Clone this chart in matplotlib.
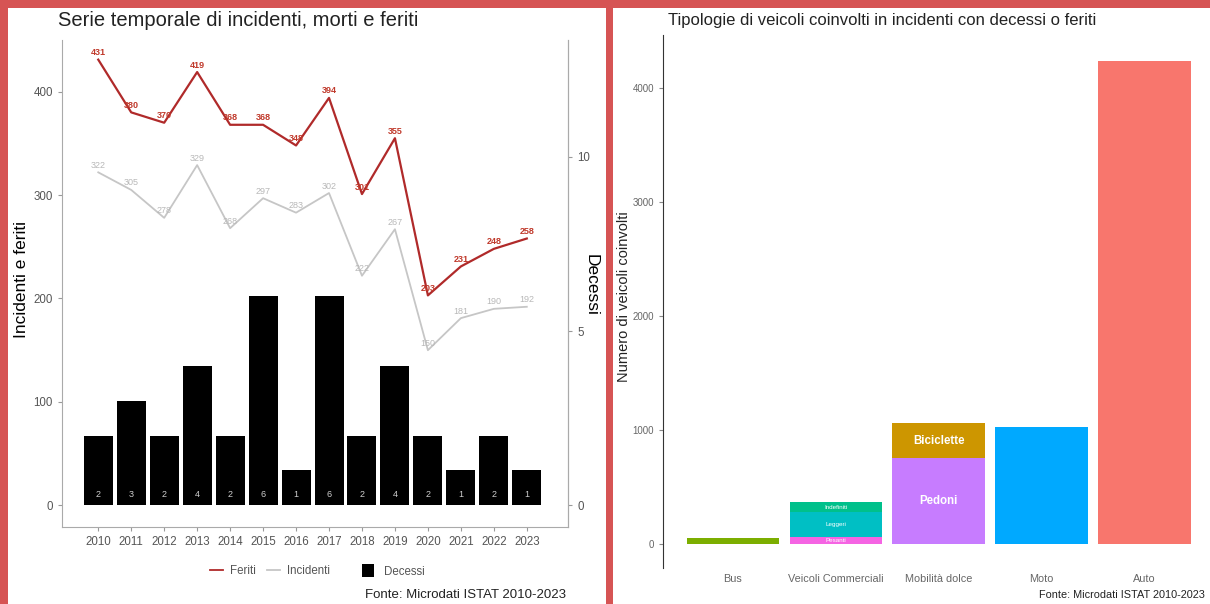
import numpy as np
import matplotlib.pyplot as plt
from matplotlib.patches import Rectangle
from matplotlib.lines import Line2D
from matplotlib.patches import Patch

plt.rcParams['font.family'] = ['Liberation Sans', 'DejaVu Sans']

# dati serie temporale
anni = [2010, 2011, 2012, 2013, 2014, 2015, 2016, 2017, 2018, 2019, 2020, 2021, 2022, 2023]
feriti = [431, 380, 370, 419, 368, 368, 348, 394, 301, 355, 203, 231, 248, 258]
incidenti = [322, 305, 278, 329, 268, 297, 283, 302, 222, 267, 150, 181, 190, 192]
decessi = [2, 3, 2, 4, 2, 6, 1, 6, 2, 4, 2, 1, 2, 1]

# dati tipologie veicoli
categorie = ['Bus', 'Veicoli Commerciali', 'Mobilità dolce', 'Moto', 'Auto']
sotto_tipi = ['Bus', 'Pesanti', 'Leggeri', 'Indefiniti', 'Pedoni', 'Biciclette', 'Moto', 'Auto']
sotto_gruppo = ['Bus', 'Veicoli Commerciali', 'Veicoli Commerciali', 'Veicoli Commerciali',
                'Mobilità dolce', 'Mobilità dolce', 'Moto', 'Auto']
sotto_valori = [55, 60, 220, 90, 755, 305, 1025, 4240]
sotto_colori = ['#7cae00', '#f564e3', '#00bfc4', '#00c08b', '#c77cff', '#cd9600', '#00a9ff', '#f8766d']

k = 33.7  # scala decessi -> asse sinistro
W, H = 1210, 604

fig = plt.figure(figsize=(12.1, 6.04), dpi=100)
fig.patch.set_facecolor('#d65454')
# pannelli bianchi
fig.patches.append(Rectangle((8/W, 0), 598/W, 1 - 8/H, transform=fig.transFigure,
                             facecolor='white', edgecolor='none', zorder=-10))
fig.patches.append(Rectangle((613/W, 0), 597/W, 1 - 8/H, transform=fig.transFigure,
                             facecolor='white', edgecolor='none', zorder=-10))

# ---------------- grafico sinistro
ax = fig.add_axes([62/W, 1 - 527/H, 506/W, 487/H])
ax.set_facecolor('white')
x = np.array(anni)
ax.bar(x, np.array(decessi) * k, width=0.88, color='black', zorder=1)
for xi, d in zip(anni, decessi):
    ax.text(xi, 0.3 * k, str(d), color='#cfcfcf', fontsize=6.5, ha='center', va='center', zorder=4)

ax.plot(x, incidenti, color='#c6c6c6', lw=1.3, zorder=2)
ax.plot(x, feriti, color='#b02a2a', lw=1.6, zorder=3)
for xi, v in zip(anni, incidenti):
    ax.annotate(str(v), (xi, v), xytext=(0, 5), textcoords='offset points',
                ha='center', va='center', fontsize=6.5, color='#b8b8b8', zorder=5)
for xi, v in zip(anni, feriti):
    ax.annotate(str(v), (xi, v), xytext=(0, 5), textcoords='offset points',
                ha='center', va='center', fontsize=6.5, color='#c0392b', fontweight='bold', zorder=5)

ax.set_xlim(2008.9, 2024.25)
ax.set_ylim(-21, 450)
ax.set_xticks(anni)
ax.set_yticks([0, 100, 200, 300, 400])
ax.tick_params(axis='both', colors='#9a9a9a', labelcolor='#555555', labelsize=8.3, length=3)
ax.spines['top'].set_visible(False)
for s in ['left', 'bottom', 'right']:
    ax.spines[s].set_color('#aaaaaa')

sec = ax.secondary_yaxis('right', functions=(lambda y: y / k, lambda d: d * k))
sec.set_yticks([0, 5, 10])
sec.tick_params(colors='#9a9a9a', labelcolor='#555555', labelsize=8.3, length=3)
sec.spines['right'].set_color('#aaaaaa')

fig.text(22/W, 1 - 280/H, 'Incidenti e feriti', fontsize=12.5, rotation=90,
         ha='center', va='center', color='black')
fig.text(591/W, 1 - 285/H, 'Decessi', fontsize=12.5, rotation=-90,
         ha='center', va='center', color='black')
fig.text(58/W, 1 - 21/H, 'Serie temporale di incidenti, morti e feriti', fontsize=14.5,
         ha='left', va='center', color='#222222')

h_linee = [Line2D([], [], color='#b02a2a', lw=1.3),
           Line2D([], [], color='#c6c6c6', lw=1.3)]
fig.legend(h_linee, ['Feriti', 'Incidenti'], loc='center',
           bbox_to_anchor=(270/W, 1 - 571/H), ncol=2, frameon=False, fontsize=8.3,
           handlelength=1.1, columnspacing=1.0, handletextpad=0.6, labelcolor='#555555')
fig.legend([Patch(facecolor='black')], ['Decessi'], loc='center',
           bbox_to_anchor=(393/W, 1 - 571/H), frameon=False, fontsize=8.3,
           handlelength=1.1, handleheight=1.3, handletextpad=0.8, labelcolor='#555555')
fig.text(566/W, 1 - 595/H, 'Fonte: Microdati ISTAT 2010-2023', fontsize=9.5,
         ha='right', va='center', color='#222222')

# ---------------- grafico destro
ax2 = fig.add_axes([663/W, 1 - 568/H, 537/W, 533/H])
ax2.set_facecolor('white')
pos = {c: i for i, c in enumerate(categorie)}
base = {c: 0 for c in categorie}
for tipo, gruppo, val, col in zip(sotto_tipi, sotto_gruppo, sotto_valori, sotto_colori):
    xi = pos[gruppo]
    ax2.bar(xi, val, bottom=base[gruppo], width=0.9, color=col)
    centro = base[gruppo] + val / 2
    if tipo in ('Pedoni', 'Biciclette'):
        ax2.text(xi, centro, tipo, ha='center', va='center', color='white', fontsize=8.3,
                 fontweight='bold')
    elif tipo in ('Pesanti', 'Leggeri', 'Indefiniti'):
        ax2.text(xi, centro, tipo, ha='center', va='center', color='white', fontsize=4.5)
    base[gruppo] += val

ax2.set_xlim(-0.68, 4.54)
ax2.set_ylim(-210, 4465)
ax2.set_xticks(range(len(categorie)))
ax2.set_xticklabels(categorie)
ax2.set_yticks([0, 1000, 2000, 3000, 4000])
ax2.tick_params(axis='x', length=0, labelsize=7.8, labelcolor='#666666', pad=4)
ax2.tick_params(axis='y', length=3, colors='#888888', labelsize=7, labelcolor='#666666')
for s in ['top', 'right', 'bottom']:
    ax2.spines[s].set_visible(False)
ax2.spines['left'].set_color('#333333')
fig.text(624/W, 1 - 297/H, 'Numero di veicoli coinvolti', fontsize=10.5, rotation=90,
         ha='center', va='center', color='#222222')
fig.text(668/W, 1 - 21/H, 'Tipologie di veicoli coinvolti in incidenti con decessi o feriti',
         fontsize=12, ha='left', va='center', color='#222222')
fig.text(1205/W, 1 - 595/H, 'Fonte: Microdati ISTAT 2010-2023', fontsize=7.8,
         ha='right', va='center', color='#222222')

fig.savefig('out.png', dpi=100, facecolor=fig.get_facecolor())
